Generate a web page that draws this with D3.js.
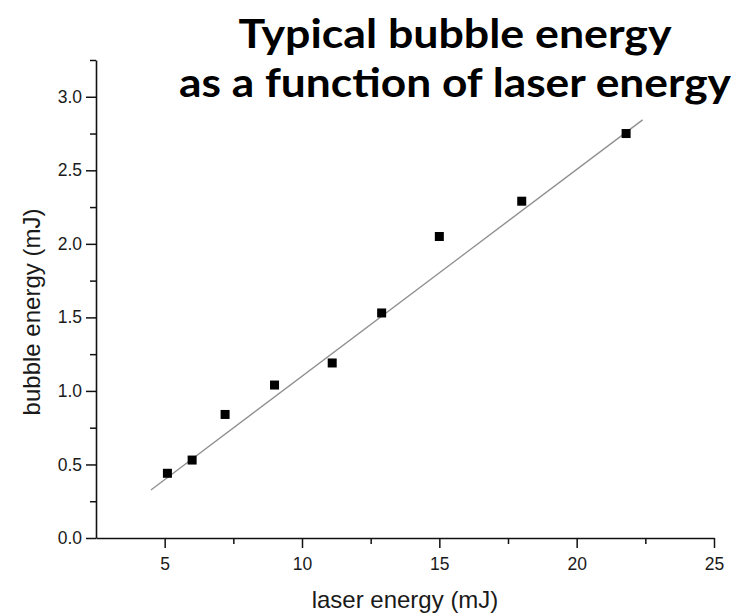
<!DOCTYPE html>
<html>
<head>
<meta charset="utf-8">
<script src="https://cdn.jsdelivr.net/npm/d3@7"></script>
<style>
  html, body { margin: 0; padding: 0; background: #fff; }
  svg { display: block; }
</style>
</head>
<body>
<svg id="chart" width="744" height="616"></svg>
<script>
// ---- data ----
const laserEnergy  = [5.1, 6.0, 7.2, 9.0, 11.1, 12.9, 15.0, 18.0, 21.8];
const bubbleEnergy = [0.44, 0.53, 0.84, 1.04, 1.19, 1.53, 2.05, 2.29, 2.75];
const fitX = [4.5, 22.4];
const fitY = [0.327, 2.843];
const xTickValues = [5, 10, 15, 20, 25];
const xMinorValues = [7.5, 12.5, 17.5, 22.5];
const yTickValues = [0, 0.5, 1.0, 1.5, 2.0, 2.5, 3.0];
const yMinorValues = [0.25, 0.75, 1.25, 1.75, 2.25, 2.75, 3.25];
const titleLines = ["Typical bubble energy", "as a function of laser energy"];
const xLabel = "laser energy (mJ)";
const yLabel = "bubble energy (mJ)";

// ---- layout ----
const svg = d3.select("#chart");
const x = d3.scaleLinear().domain([2.5, 25]).range([96, 714]);
const y = d3.scaleLinear().domain([0, 3.25]).range([538, 60]);
const ink = "#111";
const tickFont = "Liberation Sans, Arial, Helvetica, sans-serif";

// minor ticks
svg.append("g").attr("transform", `translate(0,${y(0)})`)
  .call(d3.axisBottom(x).tickValues(xMinorValues).tickSize(6).tickSizeOuter(0).tickFormat(""))
  .call(g => g.select(".domain").remove())
  .call(g => g.selectAll("line").attr("stroke", ink).attr("stroke-width", 1.5));
svg.append("g").attr("transform", `translate(${x(2.5)},0)`)
  .call(d3.axisLeft(y).tickValues(yMinorValues).tickSize(6).tickSizeOuter(0).tickFormat(""))
  .call(g => g.select(".domain").remove())
  .call(g => g.selectAll("line").attr("stroke", ink).attr("stroke-width", 1.5));

// major axes
svg.append("g").attr("transform", `translate(0,${y(0)})`)
  .call(d3.axisBottom(x).tickValues(xTickValues).tickSize(10).tickSizeOuter(0).tickPadding(10).tickFormat(d3.format("d")))
  .call(g => g.select(".domain").attr("stroke", ink).attr("stroke-width", 1.6))
  .call(g => g.selectAll("line").attr("stroke", ink).attr("stroke-width", 1.5))
  .call(g => g.selectAll("text").attr("fill", "#1a1a1a").style("font-family", tickFont).style("font-size", "17.5px"));
svg.append("g").attr("transform", `translate(${x(2.5)},0)`)
  .call(d3.axisLeft(y).tickValues(yTickValues).tickSize(10).tickSizeOuter(0).tickPadding(4).tickFormat(d3.format(".1f")))
  .call(g => g.select(".domain").attr("stroke", ink).attr("stroke-width", 1.6))
  .call(g => g.selectAll("line").attr("stroke", ink).attr("stroke-width", 1.5))
  .call(g => g.selectAll("text").attr("fill", "#1a1a1a").style("font-family", tickFont).style("font-size", "17.5px"));

// fit line
const line = d3.line().x(d => x(d[0])).y(d => y(d[1]));
svg.append("path")
  .datum(d3.zip(fitX, fitY))
  .attr("d", line)
  .attr("fill", "none")
  .attr("stroke", "#8f8f8f")
  .attr("stroke-width", 1.3);

// points
const s = 9;
svg.append("g").selectAll("rect")
  .data(d3.zip(laserEnergy, bubbleEnergy))
  .join("rect")
  .attr("x", d => x(d[0]) - s / 2)
  .attr("y", d => y(d[1]) - s / 2)
  .attr("width", s)
  .attr("height", s)
  .attr("fill", "#000");

// axis labels
svg.append("text")
  .attr("x", (x.range()[0] + x.range()[1]) / 2)
  .attr("y", 608)
  .attr("text-anchor", "middle")
  .attr("fill", "#1a1a1a")
  .style("font-family", tickFont)
  .style("font-size", "24px")
  .text(xLabel);
svg.append("text")
  .attr("transform", `translate(40,312) rotate(-90)`)
  .attr("text-anchor", "middle")
  .attr("fill", "#1a1a1a")
  .style("font-family", tickFont)
  .style("font-size", "24px")
  .text(yLabel);

// title
const titleWidths = [433, 552];
const titleBase = [48, 97];
svg.append("g").selectAll("text")
  .data(titleLines)
  .join("text")
  .attr("x", 455)
  .attr("y", (d, i) => titleBase[i])
  .attr("text-anchor", "middle")
  .attr("textLength", (d, i) => titleWidths[i])
  .attr("lengthAdjust", "spacingAndGlyphs")
  .attr("fill", "#000")
  .style("font-family", "Lato, 'Open Sans', sans-serif")
  .style("font-weight", "700")
  .style("font-size", "41px")
  .text(d => d);
</script>
</body>
</html>
